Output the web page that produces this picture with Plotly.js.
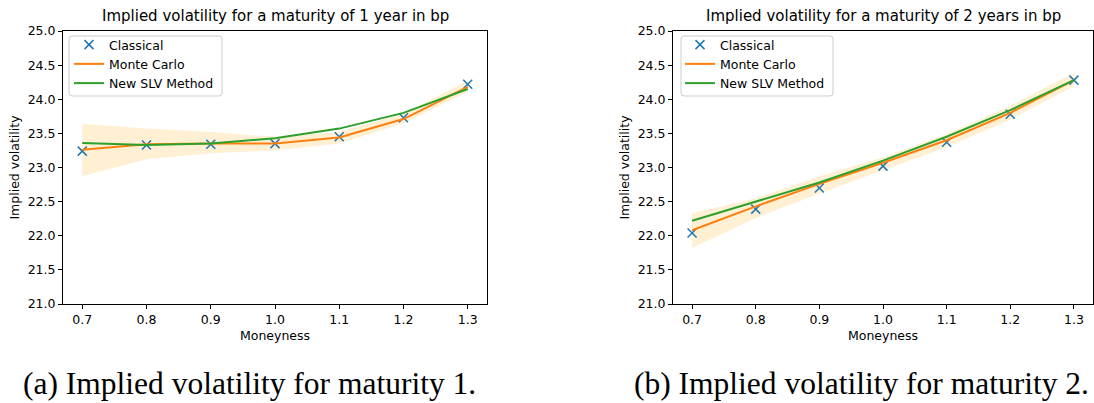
<!DOCTYPE html>
<html><head><meta charset="utf-8">
<script src="https://cdn.plot.ly/plotly-3.0.1.min.js"></script>
<style>html,body{margin:0;padding:0;background:#fff}#chart{width:1094px;height:403px}</style>
</head><body><div id="chart"></div>
<script>
const moneyness = [0.7, 0.8, 0.9, 1.0, 1.1, 1.2, 1.3];
const xTicks = [0.7, 0.8, 0.9, 1.0, 1.1, 1.2, 1.3];
const xTickText = ["0.7", "0.8", "0.9", "1.0", "1.1", "1.2", "1.3"];
const yTicks = [21.0, 21.5, 22.0, 22.5, 23.0, 23.5, 24.0, 24.5, 25.0];
const yTickText = ["21.0", "21.5", "22.0", "22.5", "23.0", "23.5", "24.0", "24.5", "25.0"];

// Maturity 1 year
const classical1 = [23.24, 23.33, 23.34, 23.35, 23.45, 23.73, 24.22];
const monteCarlo1 = [23.26, 23.34, 23.35, 23.35, 23.44, 23.71, 24.18];
const slv1 = [23.36, 23.33, 23.35, 23.43, 23.57, 23.80, 24.15];
const mcUpper1 = [23.64, 23.57, 23.52, 23.45, 23.52, 23.79, 24.27];
const mcLower1 = [22.87, 23.12, 23.21, 23.25, 23.35, 23.65, 24.11];

// Maturity 2 years
const classical2 = [22.04, 22.39, 22.70, 23.02, 23.37, 23.78, 24.28];
const monteCarlo2 = [22.08, 22.43, 22.76, 23.07, 23.40, 23.80, 24.28];
const slv2 = [22.22, 22.50, 22.78, 23.10, 23.45, 23.84, 24.28];
const mcUpper2 = [22.33, 22.55, 22.87, 23.15, 23.49, 23.90, 24.39];
const mcLower2 = [21.82, 22.26, 22.62, 22.96, 23.30, 23.70, 24.19];

const titles = ["Implied volatility for a maturity of 1 year in bp",
                "Implied volatility for a maturity of 2 years in bp"];
const captions = ["(a) Implied volatility for maturity 1.",
                  "(b) Implied volatility for maturity 2."];
const seriesNames = ["Classical", "Monte Carlo", "New SLV Method"];

const BLUE = "#1f77b4", ORANGE = "#ff7f0e", GREEN = "#2ca02c";
const BAND = "rgba(255,165,0,0.17)";

function panel(idx, classical, mc, slv, up, lo) {
  const xa = idx === 0 ? "x" : "x2", ya = idx === 0 ? "y" : "y2";
  const lg = idx === 0 ? "legend" : "legend2";
  return [
    {x: moneyness, y: lo, xaxis: xa, yaxis: ya, mode: "lines", line: {width: 0}, showlegend: false, hoverinfo: "skip"},
    {x: moneyness, y: up, xaxis: xa, yaxis: ya, mode: "lines", line: {width: 0}, fill: "tonexty", fillcolor: BAND, showlegend: false, hoverinfo: "skip"},
    {x: moneyness, y: classical, xaxis: xa, yaxis: ya, mode: "markers", name: seriesNames[0], legend: lg,
     marker: {symbol: "x-thin-open", size: 9, color: BLUE, line: {color: BLUE, width: 1.5}}},
    {x: moneyness, y: mc, xaxis: xa, yaxis: ya, mode: "lines", name: seriesNames[1], legend: lg, line: {color: ORANGE, width: 2}},
    {x: moneyness, y: slv, xaxis: xa, yaxis: ya, mode: "lines", name: seriesNames[2], legend: lg, line: {color: GREEN, width: 2}}
  ];
}

const data = [].concat(
  panel(0, classical1, monteCarlo1, slv1, mcUpper1, mcLower1),
  panel(1, classical2, monteCarlo2, slv2, mcUpper2, mcLower2)
);

const FONT = "DejaVu Sans, sans-serif";
const FS = 12.5;
const W = 1094, H = 403;
const yDom = [1 - 304/H, 1 - 31/H];
function xAxis(dom, anchor) {
  return {domain: dom, anchor: anchor, range: [0.67, 1.33], tickvals: xTicks, ticktext: xTickText,
    showline: true, mirror: true, linecolor: "#000", linewidth: 1, ticks: "outside", ticklen: 4, tickcolor: "#000",
    showgrid: false, zeroline: false, tickfont: {family: FONT, size: FS, color: "#000"},
    title: {text: "Moneyness", font: {family: FONT, size: FS, color: "#000"}, standoff: 5}};
}
function yAxis(anchor) {
  return {domain: yDom, anchor: anchor, range: [21, 25], tickvals: yTicks, ticktext: yTickText,
    showline: true, mirror: true, linecolor: "#000", linewidth: 1, ticks: "outside", ticklen: 4, tickcolor: "#000",
    showgrid: false, zeroline: false, tickfont: {family: FONT, size: FS, color: "#000"},
    title: {text: "Implied volatility", font: {family: FONT, size: FS, color: "#000"}, standoff: 5}};
}
const legendStyle = {bgcolor: "rgba(0,0,0,0)", borderwidth: 0, traceorder: "normal",
  font: {family: FONT, size: FS, color: "#000"}, xanchor: "left", yanchor: "top", tracegroupgap: 0, itemwidth: 30};

// rounded legend frame (matplotlib style), in pixels converted to paper coords
function roundedBox(x0, y0, x1, y1, r) {
  const px = v => (v / W).toFixed(5), py = v => (1 - v / H).toFixed(5);
  return "M" + px(x0 + r) + "," + py(y0) + " L" + px(x1 - r) + "," + py(y0) +
    " Q" + px(x1) + "," + py(y0) + " " + px(x1) + "," + py(y0 + r) +
    " L" + px(x1) + "," + py(y1 - r) + " Q" + px(x1) + "," + py(y1) + " " + px(x1 - r) + "," + py(y1) +
    " L" + px(x0 + r) + "," + py(y1) + " Q" + px(x0) + "," + py(y1) + " " + px(x0) + "," + py(y1 - r) +
    " L" + px(x0) + "," + py(y0 + r) + " Q" + px(x0) + "," + py(y0) + " " + px(x0 + r) + "," + py(y0) + " Z";
}

const xd1 = [63/W, 487/W], xd2 = [673/W, 1093/W];
const layout = {
  width: W, height: H, margin: {l: 0, r: 0, t: 0, b: 0},
  paper_bgcolor: "#fff", plot_bgcolor: "#fff", showlegend: true,
  xaxis: xAxis(xd1, "y"), yaxis: yAxis("x"),
  xaxis2: xAxis(xd2, "y2"), yaxis2: yAxis("x2"),
  legend: Object.assign({x: 69/W, y: 1 - 30/H}, legendStyle),
  legend2: Object.assign({x: 680/W, y: 1 - 30/H}, legendStyle),
  shapes: [
    {type: "path", xref: "paper", yref: "paper", path: roundedBox(69, 36, 222, 96, 3), line: {color: "#cccccc", width: 1}, fillcolor: "rgba(255,255,255,0.8)", layer: "above"},
    {type: "path", xref: "paper", yref: "paper", path: roundedBox(681, 36, 833, 96, 3), line: {color: "#cccccc", width: 1}, fillcolor: "rgba(255,255,255,0.8)", layer: "above"}
  ],
  annotations: [
    {text: titles[0], xref: "paper", yref: "paper", x: (xd1[0]+xd1[1])/2, y: 1 - 16/H, xanchor: "center", yanchor: "middle", showarrow: false, font: {family: FONT, size: 15, color: "#000"}},
    {text: titles[1], xref: "paper", yref: "paper", x: (xd2[0]+xd2[1])/2, y: 1 - 16/H, xanchor: "center", yanchor: "middle", showarrow: false, font: {family: FONT, size: 15, color: "#000"}},
    {text: captions[0], xref: "paper", yref: "paper", x: 21/W, y: 1 - 383/H, xanchor: "left", yanchor: "middle", showarrow: false, font: {family: "Liberation Serif, serif", size: 31.5, color: "#000"}},
    {text: captions[1], xref: "paper", yref: "paper", x: 632/W, y: 1 - 383/H, xanchor: "left", yanchor: "middle", showarrow: false, font: {family: "Liberation Serif, serif", size: 31.5, color: "#000"}}
  ]
};
Plotly.newPlot("chart", data, layout, {displayModeBar: false, staticPlot: true});
</script></body></html>
